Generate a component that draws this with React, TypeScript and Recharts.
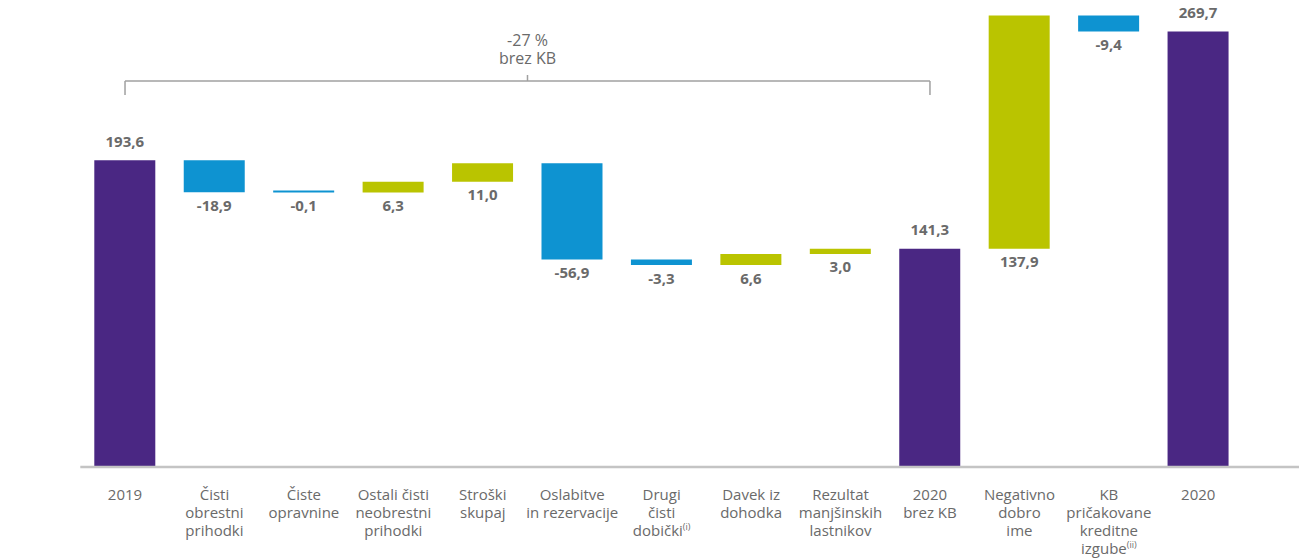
import { BarChart, Bar, XAxis, YAxis, Cell, LabelList, ReferenceLine } from "recharts";

const categories = [
  "2019",
  "Čisti obrestni prihodki",
  "Čiste opravnine",
  "Ostali čisti neobrestni prihodki",
  "Stroški skupaj",
  "Oslabitve in rezervacije",
  "Drugi čisti dobički",
  "Davek iz dohodka",
  "Rezultat manjšinskih lastnikov",
  "2020 brez KB",
  "Negativno dobro ime",
  "KB pričakovane kreditne izgube",
  "2020",
];

const tickLines = [
  ["2019"],
  ["Čisti", "obrestni", "prihodki"],
  ["Čiste", "opravnine"],
  ["Ostali čisti", "neobrestni", "prihodki"],
  ["Stroški", "skupaj"],
  ["Oslabitve", "in rezervacije"],
  ["Drugi", "čisti", "dobički"],
  ["Davek iz", "dohodka"],
  ["Rezultat", "manjšinskih", "lastnikov"],
  ["2020", "brez KB"],
  ["Negativno", "dobro", "ime"],
  ["KB", "pričakovane", "kreditne", "izgube"],
  ["2020"],
];

const footnotes = ["", "", "", "", "", "", "(i)", "", "", "", "", "(ii)", ""];

const values = [193.6, -18.9, -0.1, 6.3, 11.0, -56.9, -3.3, 6.6, 3.0, 141.3, 137.9, -9.4, 269.7];

const isTotal = [true, false, false, false, false, false, false, false, false, true, false, false, true];

// the source chart's value axis does not start at zero
const yDomain = [12.35, 286.6];

const bracketFrom = "2019";
const bracketTo = "2020 brez KB";
const bracketText = ["-27 %", "brez KB"];
const bracketLevel = 240.5;
const bracketTickEnd = 232.2;

const PURPLE = "#4a2783";
const BLUE = "#0e93d1";
const GREEN = "#bac400";
const TEXT = "#6a6a6a";
const FONT = "'Open Sans', sans-serif";

let running = 0;
const data = categories.map((name, i) => {
  const v = values[i];
  let range: number[];
  if (isTotal[i]) {
    range = [0, v];
    running = v;
  } else {
    const start = running;
    running = running + v;
    range = [Math.min(start, running), Math.max(start, running)];
  }
  return { name, value: v, range, total: isTotal[i] };
});

const fmt = (v: number) => v.toFixed(1).replace(".", ",");

function CategoryTick(props: any) {
  const { x, y, payload } = props;
  const i = categories.indexOf(payload.value);
  const lines = tickLines[i] || [];
  return (
    <text x={x} y={y} textAnchor="middle" fill={TEXT} fontSize={15} fontFamily={FONT}>
      {lines.map((line, j) => (
        <tspan key={j} x={x} y={y + 24.7 + j * 18.2}>
          {line}
          {j === lines.length - 1 && footnotes[i] ? (
            <tspan fontSize={9} dy={-6}>
              {footnotes[i]}
            </tspan>
          ) : null}
        </tspan>
      ))}
    </text>
  );
}

function ValueLabel(props: any) {
  const { x, y, width, height, index } = props;
  const d = data[index];
  const top = Math.min(y, y + height);
  const bottom = Math.max(y, y + height);
  const ty = d.total ? top - 13.5 : bottom + 18.5;
  return (
    <text
      x={x + width / 2}
      y={ty}
      textAnchor="middle"
      fill={TEXT}
      fontSize={15}
      fontWeight="bold"
      fontFamily={FONT}
    >
      {fmt(d.value)}
    </text>
  );
}

function BracketLabel(props: any) {
  const { viewBox } = props;
  const cx = viewBox.x + viewBox.width / 2;
  const ly = viewBox.y;
  return (
    <g>
      <line x1={cx} y1={ly} x2={cx} y2={ly - 6} stroke="#a0a0a0" strokeWidth={1.5} />
      <text x={cx} y={ly - 34.5} textAnchor="middle" fill={TEXT} fontSize={16} fontFamily={FONT}>
        {bracketText[0]}
      </text>
      <text x={cx} y={ly - 17} textAnchor="middle" fill={TEXT} fontSize={16} fontFamily={FONT}>
        {bracketText[1]}
      </text>
    </g>
  );
}

export default function App() {
  return (
    <div style={{ position: "absolute", left: 0, top: 0, background: "#fff" }}>
      <BarChart
        width={1299}
        height={560}
        data={data}
        margin={{ top: 3, right: 0, left: 80.3, bottom: 0 }}
      >
        <XAxis
          dataKey="name"
          interval={0}
          tickLine={false}
          axisLine={{ stroke: "#c4c4c4", strokeWidth: 2.5 }}
          padding={{ left: 0, right: 56 }}
          height={93}
          tick={<CategoryTick />}
        />
        <YAxis hide domain={yDomain} allowDataOverflow />
        <ReferenceLine
          segment={[
            { x: bracketFrom, y: bracketLevel },
            { x: bracketTo, y: bracketLevel },
          ]}
          stroke="#a0a0a0"
          strokeWidth={1.5}
          label={(p: any) => <BracketLabel {...p} />}
        />
        <ReferenceLine
          segment={[
            { x: bracketFrom, y: bracketLevel },
            { x: bracketFrom, y: bracketTickEnd },
          ]}
          stroke="#a0a0a0"
          strokeWidth={1.5}
        />
        <ReferenceLine
          segment={[
            { x: bracketTo, y: bracketLevel },
            { x: bracketTo, y: bracketTickEnd },
          ]}
          stroke="#a0a0a0"
          strokeWidth={1.5}
        />
        <Bar dataKey="range" barSize={61} minPointSize={2} isAnimationActive={false}>
          {data.map((d, i) => (
            <Cell key={i} fill={d.total ? PURPLE : d.value < 0 ? BLUE : GREEN} />
          ))}
          <LabelList dataKey="value" content={<ValueLabel />} />
        </Bar>
      </BarChart>
    </div>
  );
}
